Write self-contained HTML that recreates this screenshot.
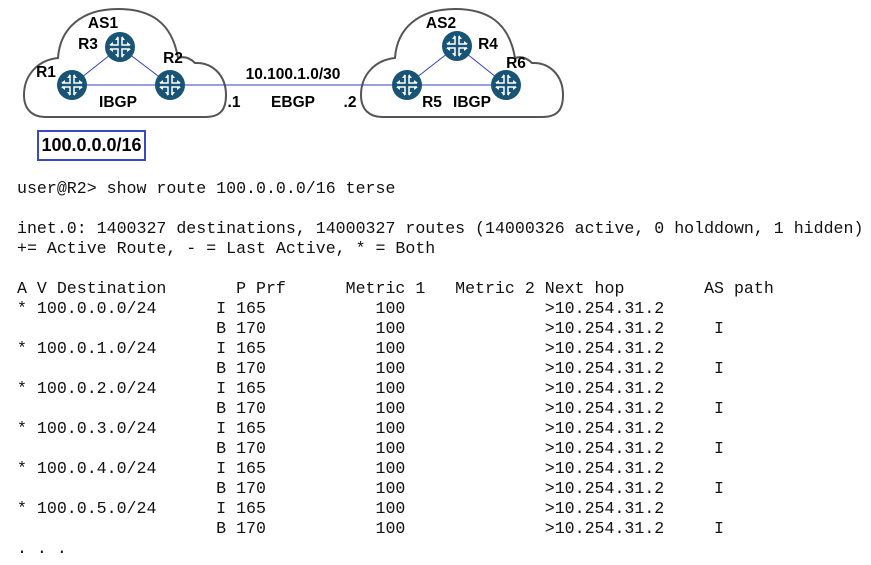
<!DOCTYPE html>
<html><head><meta charset="utf-8"><style>
body{margin:0;background:#fff;width:871px;height:565px;overflow:hidden;position:relative}
svg{position:absolute;left:0;top:0}
pre{position:absolute;left:17px;top:179px;margin:0;font-family:"Liberation Mono",monospace;font-size:16.6px;line-height:20px;color:#111}
.box{position:absolute;left:37px;top:130px;width:105px;height:27px;border:2px solid #3b48c4;font:bold 18px "Liberation Sans",sans-serif;text-align:center;line-height:27px;color:#000}
</style></head><body>
<svg width="871" height="170" viewBox="0 0 871 170">
<defs>
<path id="cl" d="M45 117 H205 C222 117 226 108 226 95 C226 75 212 62 195 63 C190 58 184 56 178 58 C172 22 150 9 118 9 C82 9 60 28 58 58 C38 60 24 75 24 95 C24 110 33 117 45 117 Z" fill="#fff" stroke="#555" stroke-width="2"/>
<g id="rt">
<circle r="15" fill="#175475"/>
<g stroke="#fff" stroke-width="1.5" fill="none">
<path d="M-2 -10 V-2 H-10 M2 -10 V-2 H10 M-2 10 V2 H-10 M2 10 V2 H10"/>
</g>
<g fill="#fff">
<path d="M-2 -11 l-3 4 h3z M2 -11 l3 4 h-3z M-11 -2 l4 -3 v3z M11 2 l-4 3 v-3z M-11 2 l4 3 v-3z M11 -2 l-4 -3 v3z M-2 11 l-3 -4 h3z M2 11 l3 -4 h-3z"/>
</g>
</g>
</defs>
<use href="#cl"/>
<use href="#cl" transform="translate(337,0)"/>
<g stroke="#3040c0" stroke-width="1">
<line x1="72" y1="85" x2="120" y2="47"/>
<line x1="120" y1="47" x2="170" y2="85"/>
<line x1="72" y1="85" x2="170" y2="85"/>
<line x1="170" y1="85" x2="407" y2="85"/>
<line x1="407" y1="85" x2="457" y2="46"/>
<line x1="457" y1="46" x2="506" y2="85"/>
<line x1="407" y1="85" x2="506" y2="85"/>
</g>
<use href="#rt" x="72" y="85"/>
<use href="#rt" x="120" y="47"/>
<use href="#rt" x="170" y="85"/>
<use href="#rt" x="407" y="85"/>
<use href="#rt" x="457" y="46"/>
<use href="#rt" x="506" y="85"/>
<g font-family="Liberation Sans,sans-serif" font-weight="bold" font-size="15.5" fill="#000" text-anchor="middle">
<text x="103" y="28">AS1</text>
<text x="88" y="49">R3</text>
<text x="173" y="63">R2</text>
<text x="46" y="77">R1</text>
<text x="118" y="107">IBGP</text>
<text x="234" y="107">.1</text>
<text x="293" y="107">EBGP</text>
<text x="350" y="107">.2</text>
<text x="293" y="79">10.100.1.0/30</text>
<text x="441" y="28">AS2</text>
<text x="488" y="49">R4</text>
<text x="516" y="68">R6</text>
<text x="432" y="107">R5</text>
<text x="472" y="107">IBGP</text>
</g>
</svg>
<div class="box">100.0.0.0/16</div>
<pre>user@R2&gt; show route 100.0.0.0/16 terse

inet.0: 1400327 destinations, 14000327 routes (14000326 active, 0 holddown, 1 hidden)
+= Active Route, - = Last Active, * = Both

A V Destination       P Prf      Metric 1   Metric 2 Next hop        AS path
* 100.0.0.0/24      I 165           100              >10.254.31.2
                    B 170           100              >10.254.31.2     I
* 100.0.1.0/24      I 165           100              >10.254.31.2
                    B 170           100              >10.254.31.2     I
* 100.0.2.0/24      I 165           100              >10.254.31.2
                    B 170           100              >10.254.31.2     I
* 100.0.3.0/24      I 165           100              >10.254.31.2
                    B 170           100              >10.254.31.2     I
* 100.0.4.0/24      I 165           100              >10.254.31.2
                    B 170           100              >10.254.31.2     I
* 100.0.5.0/24      I 165           100              >10.254.31.2
                    B 170           100              >10.254.31.2     I
. . .</pre>
</body></html>
